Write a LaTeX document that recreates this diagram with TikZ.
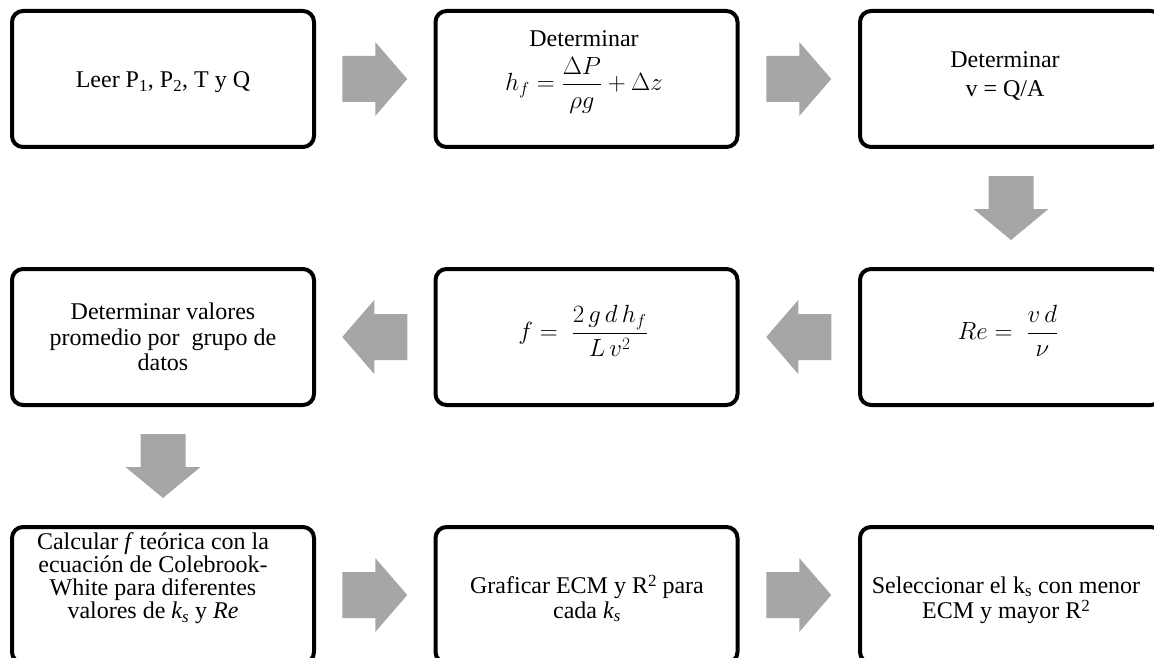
\documentclass[tikz,border=0pt]{standalone}
\usepackage{amsmath}
\usepackage{fontspec}
\setmainfont{Liberation Serif}
\usetikzlibrary{calc}
\definecolor{arrowgray}{RGB}{166,166,166}
\newcommand\suptwo[1]{\raisebox{0.26em}{\fontsize{17}{17}\selectfont #1}}
\begin{document}
\begin{tikzpicture}[x=1pt,y=-1pt,
  box/.style={draw=black,line width=4pt,rounded corners=11pt,minimum width=302pt,minimum height=136pt,inner sep=0pt},
  lbl/.style={font=\fontsize{24}{26}\selectfont,inner sep=0pt,anchor=base},
  mth/.style={font=\fontsize{24}{26}\selectfont,inner sep=0pt},
  blockarrow/.style={fill=arrowgray,draw=none},
  rarr/.pic={\fill[blockarrow] (-32.5,-23) -- (0.5,-23) -- (0.5,-37) -- (32.5,0) -- (0.5,37) -- (0.5,23) -- (-32.5,23) -- cycle;},
  larr/.pic={\fill[blockarrow] (32.5,-23) -- (-0.5,-23) -- (-0.5,-37) -- (-32.5,0) -- (-0.5,37) -- (-0.5,23) -- (32.5,23) -- cycle;},
  darr/.pic={\fill[blockarrow] (-22.5,-32) -- (22.5,-32) -- (22.5,1) -- (37.5,1) -- (0,32) -- (-37.5,1) -- (-22.5,1) -- cycle;}]
\useasboundingbox (0,0) rectangle (1154,658);
\clip (0,0) rectangle (1154,658);

% boxes
\node[box] (b1) at (163,79) {};
\node[box] (b2) at (586.5,79) {};
\node[box] (b3) at (1011,79) {};
\node[box] (b4) at (163,337) {};
\node[box] (b5) at (586.5,337) {};
\node[box] (b6) at (1011,337) {};
\node[box] (b7) at (163,595) {};
\node[box] (b8) at (586.5,595) {};
\node[box] (b9) at (1011,595) {};

% texts
\node[lbl] (t1) at (163,88) {Leer P\textsubscript{1}, P\textsubscript{2}, T y Q};
\node[lbl] (t2a) at (584,47) {Determinar};
\node[mth] (t2b) at (584,85) {$h_f = \dfrac{\Delta P}{\rho g} + \Delta z$};
\node[lbl] (t3a) at (1005,68) {Determinar};
\node[lbl] (t3b) at (1005,97) {v = Q/A};
\node[lbl] (t4a) at (163,319) {Determinar valores};
\node[lbl] (t4b) at (163,345) {promedio por\ \ grupo de};
\node[lbl] (t4c) at (163,370) {datos};
\node[mth] (t5) at (583,331) {$f =\; \dfrac{2\,g\,d\,h_f}{L\,v^2}$};
\node[mth] (t6) at (1008,331) {$Re =\; \dfrac{v\,d}{\nu}$};
\node[lbl] (t7a) at (153,549) {Calcular \textit{f} teórica con la};
\node[lbl] (t7b) at (153,572) {ecuación de Colebrook-};
\node[lbl] (t7c) at (153,595) {White para diferentes};
\node[lbl] (t7d) at (153,618.5) {valores de \textit{k\textsubscript{s}} y \textit{Re}};
\node[lbl] (t8a) at (587,593) {Graficar ECM y R\suptwo{2} para};
\node[lbl] (t8b) at (587,618) {cada \textit{k\textsubscript{s}}};
\node[lbl] (t9a) at (1006,593) {Seleccionar el k\textsubscript{s} con menor};
\node[lbl] (t9b) at (1006,618) {ECM y mayor R\suptwo{2}};

% block arrows between boxes
\pic (a1) at ($(b1.east)!0.5!(b2.west)$) {rarr};
\pic (a2) at ($(b2.east)!0.5!(b3.west)$) {rarr};
\pic (a3) at ($(b3.south)!0.5!(b6.north)$) {darr};
\pic (a4) at ($(b6.west)!0.5!(b5.east)$) {larr};
\pic (a5) at ($(b5.west)!0.5!(b4.east)$) {larr};
\pic (a6) at ($(b4.south)!0.5!(b7.north)$) {darr};
\pic (a7) at ($(b7.east)!0.5!(b8.west)$) {rarr};
\pic (a8) at ($(b8.east)!0.5!(b9.west)$) {rarr};
\end{tikzpicture}
\end{document}
